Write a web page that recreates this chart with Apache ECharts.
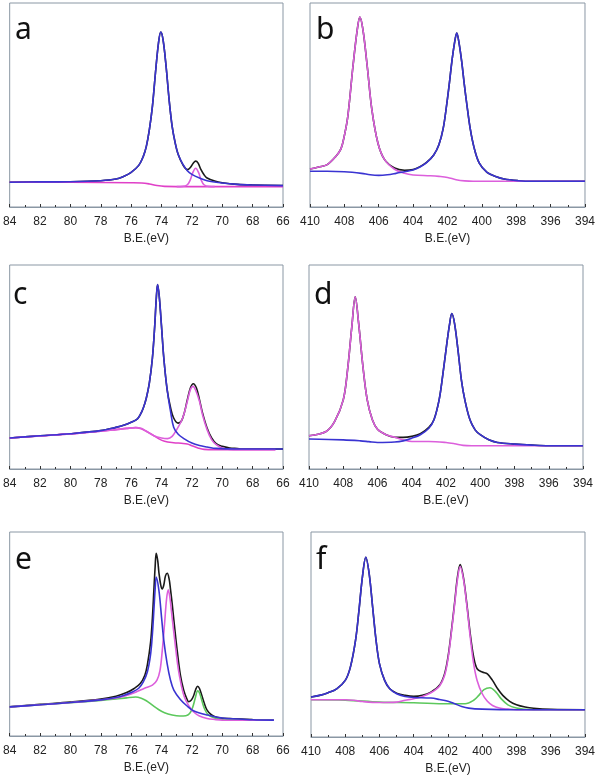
<!DOCTYPE html>
<html><head><meta charset="utf-8">
<script src="https://cdn.jsdelivr.net/npm/echarts@6/dist/echarts.min.js"></script>
<style>html,body{margin:0;padding:0;background:#fff}#c{width:598px;height:777px}</style>
</head><body><div id="c"></div>
<script>
// ---- panel letters and axes ----
const panelLetters = ['a','b','c','d','e','f'];
const xTitle = 'B.E.(eV)';
const siRange = [66, 84];
const nRange = [394, 410];

// ---- panel a (Si 2p) ----
const a_envelope = [[84,12.1],[82,12.3],[80,12.4],[78,12.9],[77,13.7],[76.5,15.0],[76,17.0],[75.5,20.4],[75.2,24.8],[75,29.7],[74.8,37.9],[74.6,49.3],[74.4,65.7],[74.2,80.4],[74.05,85.8],[73.9,82],[73.7,69],[73.5,52.6],[73.3,39.5],[73.1,31.4],[72.9,25.7],[72.6,20.8],[72.3,18.3],[72.1,19.4],[71.9,21.6],[71.75,22.5],[71.6,21.6],[71.4,18.3],[71.2,15.8],[71,14.2],[70.5,12.7],[70,11.9],[69,11.1],[68,10.8],[66,10.5]];
const a_blue = [[84,12.1],[82,12.3],[80,12.4],[78,12.9],[77,13.7],[76.5,15.0],[76,17.0],[75.5,20.4],[75.2,24.8],[75,29.7],[74.8,37.9],[74.6,49.3],[74.4,65.7],[74.2,80.4],[74.05,85.8],[73.9,82],[73.7,69],[73.5,52.6],[73.3,39.5],[73.1,31.4],[72.9,25.7],[72.6,21.0],[72.3,17.8],[72,16.0],[71.5,14.2],[71,12.9],[70,11.8],[69,11.1],[68,10.8],[66,10.5]];
const a_bg = [[84,12.1],[80,12.1],[76,11.9],[75.3,11.8],[74.8,11.3],[74.3,10.5],[73.8,10.1],[72,10.0],[66,10.0]];
const a_peak = [[73,10.0],[72.6,10.1],[72.3,10.9],[72.1,13.4],[71.95,16.7],[71.75,19.0],[71.55,16.7],[71.4,13.4],[71.2,10.9],[70.9,10.1],[70.5,10.0]];

// ---- panel b (N 1s) ----
const b_envelope = [[410,18.6],[409.5,19.6],[409,20.8],[408.5,24.8],[408.2,28.5],[408,35],[407.8,44.4],[407.5,69.0],[407.25,86.9],[407.1,93.1],[406.92,86.9],[406.67,69.0],[406.4,47.7],[406.05,31.4],[405.66,23.2],[405.08,19.1],[404.5,18.0],[404,18.4],[403.6,19.8],[403.2,22],[402.8,25.5],[402.5,30.5],[402.25,38.5],[402.05,50],[401.9,60],[401.75,71],[401.6,80],[401.46,85.3],[401.32,80],[401.17,71],[401.02,60],[400.87,50],[400.67,38],[400.45,29],[400.15,21.5],[399.7,17],[399.2,15],[398.7,13.7],[397.9,12.9],[397.1,12.6],[394,12.6]];
const b_magenta = [[410,18.6],[409.5,19.6],[409,20.8],[408.5,24.8],[408.2,28.5],[408,35],[407.8,44.4],[407.5,69.0],[407.25,86.9],[407.1,93.1],[406.92,86.9],[406.67,69.0],[406.4,47.7],[406.05,31.4],[405.66,23.2],[405.08,18.5],[404.5,16.5],[404,15.7],[403,15.3],[402.5,15.0],[402,14.5],[401.5,13.4],[401,12.8],[400.5,12.6],[394,12.6]];
const b_blue = [[410,17.5],[409,17.5],[408,17.3],[407,16.5],[406.5,15.8],[406,15.5],[405.5,15.8],[405,16.5],[404.5,17.3],[404,18.1],[403.6,19.6],[403.2,21.9],[402.8,25.5],[402.5,30.5],[402.25,38.5],[402.05,50],[401.9,60],[401.75,71],[401.6,80],[401.46,85.3],[401.32,80],[401.17,71],[401.02,60],[400.87,50],[400.67,38],[400.45,29],[400.15,21.5],[399.7,17],[399.2,15],[398.7,13.7],[397.9,12.9],[397.1,12.6],[394,12.6]];

// ---- panel c (Si 2p) ----
const c_envelope = [[84,15.2],[82,16.3],[80,17.3],[78,18.8],[77,20.4],[76.5,21.4],[76,22.9],[75.6,24.5],[75.4,26.6],[75.2,29.9],[75,34.8],[74.8,42.2],[74.6,54.4],[74.45,69.9],[74.35,83.0],[74.26,90.4],[74.15,84.6],[74,69.9],[73.85,54.4],[73.63,38.9],[73.4,29.9],[73.2,25.0],[72.91,22.5],[72.7,23.4],[72.5,27.5],[72.3,34.0],[72.1,39.7],[71.91,41.8],[71.7,39.7],[71.5,34.0],[71.3,27.5],[71,20.1],[70.7,15.2],[70.4,12.4],[70,11.1],[69.5,10.3],[69,10.0],[68.7,9.8],[66,9.8]];
const c_blue = [[84,15.2],[82,16.3],[80,17.3],[78,18.8],[77,20.4],[76.5,21.4],[76,22.9],[75.6,24.5],[75.4,26.6],[75.2,29.9],[75,34.8],[74.8,42.2],[74.6,54.4],[74.45,69.9],[74.35,83.0],[74.26,90.4],[74.15,84.6],[74,69.9],[73.85,54.4],[73.63,38.9],[73.4,28],[73.2,20.5],[72.9,17.0],[72.5,14.8],[72,12.7],[71.5,11.5],[71,10.8],[70.4,10.1],[69,9.8],[66,9.8]];
const c_peak = [[84,15.2],[82,16.2],[80,17.2],[78,18.5],[77,19.3],[76.3,19.9],[75.7,20.3],[75.3,19.8],[75,18.5],[74.5,16.3],[74,15.2],[73.6,14.9],[73.3,16.0],[73,19.3],[72.7,23.4],[72.5,27.5],[72.3,33.2],[72.1,38.9],[71.93,40.5],[71.75,38.6],[71.5,33.2],[71.3,26.6],[71,19.3],[70.7,14.4],[70.4,11.9],[70,10.3],[69.5,9.6],[69,9.5],[66.5,9.5]];
const c_bg = [[84,15.2],[82,16.2],[80,17.2],[78,18.5],[77,19.3],[76.3,19.9],[75.7,20.3],[75.3,19.6],[75,18.5],[74.6,16.8],[74.2,14.9],[73.8,13.6],[73.2,12.9],[72.7,12.6],[72.3,12.3],[72,11.4],[71.6,10.3],[71.2,9.6],[70.5,9.5],[66.5,9.5]];

// ---- panel d (N 1s) ----
const d_envelope = [[410,16.3],[409,18.4],[408.5,23.3],[408,33.9],[407.75,48.5],[407.5,69.7],[407.3,84.4],[407.1,71.3],[406.85,50.2],[406.6,33.9],[406.3,24.1],[406,19.5],[405.5,16.8],[405,15.6],[404.5,15.5],[404,16.0],[403.5,17.3],[403,20.4],[402.7,24.3],[402.4,34.0],[402.2,45.4],[402,58.4],[401.8,70.5],[401.66,76.2],[401.5,71.3],[401.3,58.3],[401.1,43.6],[400.9,33.9],[400.6,24.1],[400.3,19.2],[400,16.8],[399.5,14.3],[399,13.0],[398,12.2],[397,11.7],[396,11.4],[394,11.4]];
const d_magenta = [[410,16.3],[409,18.4],[408.5,23.3],[408,33.9],[407.75,48.5],[407.5,69.7],[407.3,84.4],[407.1,71.3],[406.85,50.2],[406.6,33.9],[406.3,24.1],[406,19.5],[405.5,16.8],[405,15.6],[404.5,14.3],[404,13.5],[403,13.5],[402,13.0],[401.5,12.4],[401,11.6],[400.5,11.4],[394,11.4]];
const d_blue = [[410,14.7],[408,14.3],[407,13.8],[406.5,13.4],[406,13.0],[405,13.2],[404.5,13.8],[404,15.1],[403.5,16.8],[403,20.0],[402.7,24.1],[402.4,33.9],[402.2,45.3],[402,58.3],[401.8,70.5],[401.66,76.2],[401.5,71.3],[401.3,58.3],[401.1,43.6],[400.9,33.9],[400.6,24.1],[400.3,19.2],[400,16.8],[399.5,14.3],[399,13.0],[398,12.2],[397,11.7],[396,11.4],[394,11.4]];

// ---- panel e (Si 2p) ----
const e_envelope = [[84,14.3],[82,15.5],[80,16.6],[78,18.1],[77,19.5],[76.3,21.3],[75.8,23.3],[75.4,25.7],[75.1,29.8],[74.93,35],[74.72,46],[74.6,58],[74.5,72],[74.42,83],[74.35,89.6],[74.25,86],[74.17,80],[74.05,74],[73.95,72.1],[73.85,74],[73.74,78.5],[73.62,79.8],[73.5,77],[73.41,72],[73.3,65],[73.19,57],[72.97,42],[72.76,30],[72.54,22.5],[72.32,18],[72.21,16.8],[72.05,17.5],[71.9,19.5],[71.75,22.8],[71.62,24.4],[71.5,23.3],[71.35,20],[71.2,16.4],[71.0,12.7],[70.7,10.3],[70.3,9.1],[69.5,8.5],[68,8.1],[66.6,7.8]];
const e_blue = [[84,14.3],[82,15.3],[80,16.4],[78,17.7],[77,18.9],[76.5,19.9],[76,21.3],[75.5,23.4],[75.2,26.5],[74.93,31.5],[74.72,40],[74.6,50],[74.5,62],[74.42,72],[74.35,77.9],[74.17,71.3],[74.0,58.3],[73.85,46.9],[73.63,35.5],[73.41,27.4],[73.19,22.5],[72.76,17.9],[72.32,14.7],[71.9,12.4],[71.0,10.3],[70,8.8],[68,8.0],[66.6,7.8]];
const e_magenta = [[84,14.3],[82,15.3],[80,16.4],[78,17.7],[77,18.6],[76.3,19.8],[75.7,21.5],[75.3,22.8],[75,23.8],[74.6,24.9],[74.3,27.4],[74.1,32.2],[73.95,42],[73.8,55],[73.67,67],[73.56,71.7],[73.45,68],[73.3,58],[73.1,45],[72.9,33],[72.7,25],[72.5,19.2],[72.2,14.7],[71.9,11.9],[71.5,9.8],[71,8.6],[70.5,8.1],[70,7.8],[66.6,7.7]];
const e_green = [[84,14.3],[82,15.3],[80,16.3],[78,17.4],[77,18.1],[76.3,18.7],[75.7,19.1],[75.3,18.4],[75,17.3],[74.6,15.1],[74.2,13.0],[73.8,11.4],[73.3,10.3],[72.8,9.8],[72.4,9.9],[72.15,11.0],[71.95,14.0],[71.78,18.5],[71.62,22.1],[71.48,20.8],[71.33,17],[71.15,13],[70.9,10.2],[70.5,8.8],[70,8.1],[66.6,7.8]];

// ---- panel f (N 1s) ----
const f_envelope = [[410,19.5],[409.5,20.3],[409,21.6],[408.5,23.5],[408,27.6],[407.7,34.1],[407.4,47.1],[407.2,61.7],[407,77.9],[406.8,87.7],[406.6,79.5],[406.4,63.3],[406.2,47.1],[406,35.7],[405.7,27.6],[405.4,23.5],[405,21.4],[404.5,20.3],[404,19.8],[403.5,20.3],[403,21.9],[402.5,25.2],[402.2,30.8],[402,39.0],[401.8,51.9],[401.6,66.6],[401.45,77.9],[401.29,84.1],[401.1,77.9],[400.9,64.9],[400.7,50.3],[400.5,39.0],[400.3,33.3],[400,31.7],[399.7,30.8],[399.4,27.6],[399.1,23.5],[398.8,20.3],[398.4,17.4],[398,15.7],[397.5,14.6],[397,14.0],[396,13.5],[394,13.3]];
const f_blue = [[410,19.5],[409.5,20.3],[409,21.6],[408.5,23.5],[408,27.6],[407.7,34.1],[407.4,47.1],[407.2,61.7],[407,77.9],[406.8,87.7],[406.6,79.5],[406.4,63.3],[406.2,47.1],[406,35.7],[405.7,27.6],[405.4,23.5],[405,21.1],[404.5,19.8],[404,19.3],[403,19.0],[402.5,18.3],[402,17.4],[401.6,16.2],[401.2,14.9],[400.8,14.1],[400,13.6],[398,13.3],[394,13.3]];
const f_magenta = [[410,18.2],[408,18.2],[407.5,17.9],[407,17.3],[406,16.8],[405,17.0],[404.5,17.9],[404,18.7],[403.5,19.8],[403,21.6],[402.5,24.8],[402.2,30.0],[402,38.1],[401.8,51.1],[401.6,65.7],[401.45,76.6],[401.29,83.1],[401.1,77.1],[400.9,64.1],[400.7,48.7],[400.5,35.7],[400.3,27.6],[400,21.1],[399.7,17.4],[399.4,15.4],[399,14.1],[398.5,13.6],[398,13.3],[394,13.3]];
const f_green = [[410,18.2],[408,18.0],[406,17.0],[404,16.7],[402,16.2],[401,16.2],[400.5,17.9],[400.2,20.3],[399.9,23.1],[399.55,24.0],[399.2,21.9],[398.9,18.7],[398.5,15.7],[398,14.1],[397.5,13.5],[397,13.3],[394,13.3]];

// ---- style ----
const COL = {black:'#1a1a1a', blue:'#3a34d2', magenta:'#dc5fdc', pink:'#e040c8', green:'#5cc85c'};
const FRAME = '#8a97a4';
const grids = [
  {left:8, top:3, width:275, height:204},
  {left:310, top:3, width:275, height:204},
  {left:8, top:265, width:275, height:204},
  {left:309, top:265, width:274, height:204},
  {left:8, top:532, width:275, height:204},
  {left:311, top:532, width:275, height:205}
];
const letterPos = [[15,37],[316,37],[13,302],[314,302],[15,567],[316,567]];
const panels = [
  {range:siRange, lines:[[a_envelope,COL.black],[a_bg,COL.pink],[a_peak,COL.magenta],[a_blue,COL.blue]]},
  {range:nRange, lines:[[b_envelope,COL.black],[b_magenta,COL.magenta],[b_blue,COL.blue]]},
  {range:siRange, lines:[[c_envelope,COL.black],[c_bg,COL.pink],[c_peak,COL.magenta],[c_blue,COL.blue]]},
  {range:nRange, lines:[[d_envelope,COL.black],[d_magenta,COL.magenta],[d_blue,COL.blue]]},
  {range:siRange, lines:[[e_envelope,COL.black],[e_green,COL.green],[e_magenta,COL.magenta],[e_blue,COL.blue]]},
  {range:nRange, lines:[[f_envelope,COL.black],[f_green,COL.green],[f_magenta,COL.magenta],[f_blue,COL.blue]]}
];

const option = {
  animation:false,
  backgroundColor:'#fff',
  grid: grids.map(g=>Object.assign({show:true, borderColor:FRAME, borderWidth:1, backgroundColor:'transparent'}, g)),
  xAxis: panels.map((p,i)=>({
    type:'value', gridIndex:i, min:p.range[0], max:p.range[1], interval:2, inverse:true,
    name:xTitle, nameLocation:'middle', nameGap:26,
    nameTextStyle:{fontFamily:'Liberation Sans', fontSize:12, color:'#222'},
    axisLine:{show:true, lineStyle:{color:FRAME, width:1}},
    axisTick:{show:true, inside:true, length:3, lineStyle:{color:'#333'}},
    minorTick:{show:true, splitNumber:2, length:2, lineStyle:{color:'#333'}},
    splitLine:{show:false},
    axisLabel:{fontFamily:'Liberation Sans', fontSize:12, color:'#222', margin:9}
  })),
  yAxis: panels.map((p,i)=>({type:'value', gridIndex:i, min:0, max:100, show:false, splitLine:{show:false}})),
  series: [],
  graphic: panelLetters.map((t,i)=>({type:'text', x:letterPos[i][0], y:letterPos[i][1]-7, style:{text:t, fontFamily:'Noto Sans', fontSize:30, fill:'#111', verticalAlign:'middle', align:'left'}}))
};
panels.forEach((p,i)=>{
  p.lines.forEach(([data,color])=>{
    option.series.push({type:'line', xAxisIndex:i, yAxisIndex:i, data:data, showSymbol:false, smooth:0.35,
      lineStyle:{color:color, width:1.6}, silent:true});
  });
});
echarts.init(document.getElementById('c')).setOption(option);
</script></body></html>
